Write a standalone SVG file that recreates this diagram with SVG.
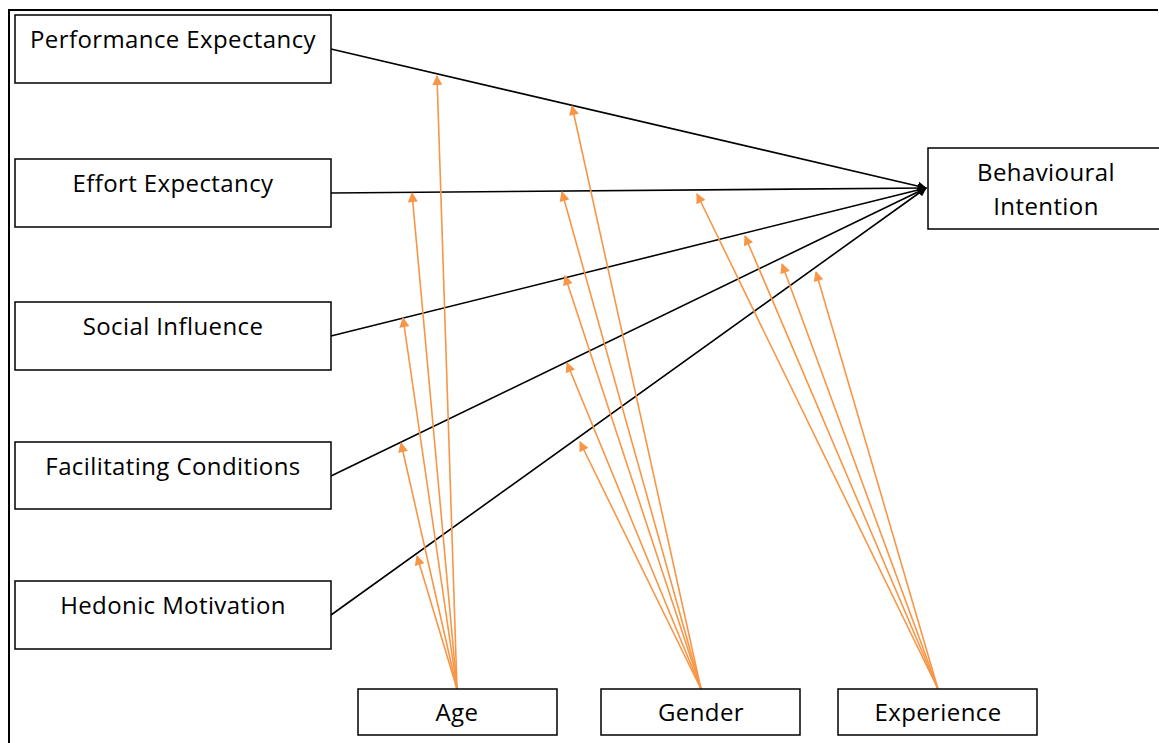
<svg xmlns="http://www.w3.org/2000/svg" width="1159" height="743" viewBox="0 0 1159 743">
<style>
.box{fill:#fff;stroke:#000;stroke-width:1.5}
.lbl{font-family:"Open Sans","Liberation Sans",sans-serif;font-size:24px;letter-spacing:0.4px;fill:#000;text-anchor:middle}
.main{stroke:#000;stroke-width:1.6;fill:none}
.mod{stroke:#F79646;stroke-width:1.6;fill:none;marker-end:url(#oa)}
</style>
<defs>
<marker id="oa" viewBox="0 0 10 10" refX="9" refY="5" markerWidth="11" markerHeight="10" markerUnits="userSpaceOnUse" orient="auto">
<path d="M0,0 L10,5 L0,10 z" fill="#F79646"/>
</marker>
<marker id="ba" viewBox="0 0 10 10" refX="9" refY="5" markerWidth="9" markerHeight="9" markerUnits="userSpaceOnUse" orient="auto">
<path d="M0,0 L10,5 L0,10 z" fill="#000"/>
</marker>
</defs>
<rect width="1159" height="743" fill="#fff"/>
<path d="M9,743 V10 H1158" fill="none" stroke="#000" stroke-width="2"/>

<g id="connectors">
<g marker-end="url(#ba)">
<line class="main" x1="331" y1="49" x2="926" y2="188"/>
<line class="main" x1="331" y1="193" x2="926" y2="188"/>
<line class="main" x1="331" y1="336" x2="926" y2="188"/>
<line class="main" x1="331" y1="476" x2="926" y2="188"/>
<line class="main" x1="331" y1="615" x2="926" y2="188"/>
</g>
<line class="mod" x1="457" y1="689" x2="437" y2="76"/>
<line class="mod" x1="457" y1="689" x2="412" y2="193"/>
<line class="mod" x1="457" y1="689" x2="403" y2="318"/>
<line class="mod" x1="457" y1="689" x2="401" y2="443"/>
<line class="mod" x1="457" y1="689" x2="417" y2="556"/>
<line class="mod" x1="701" y1="689" x2="572" y2="106"/>
<line class="mod" x1="701" y1="689" x2="562" y2="192"/>
<line class="mod" x1="701" y1="689" x2="565" y2="276"/>
<line class="mod" x1="701" y1="689" x2="567" y2="363"/>
<line class="mod" x1="701" y1="689" x2="580" y2="442"/>
<line class="mod" x1="938" y1="689" x2="697" y2="194"/>
<line class="mod" x1="938" y1="689" x2="745" y2="236"/>
<line class="mod" x1="938" y1="689" x2="782" y2="264"/>
<line class="mod" x1="938" y1="689" x2="816" y2="272"/>
</g>

<g id="pe"><rect class="box" x="15" y="15" width="316" height="68"/><text class="lbl" x="173" y="48">Performance Expectancy</text></g>
<g id="ee"><rect class="box" x="15" y="159" width="316" height="68"/><text class="lbl" x="173" y="192">Effort Expectancy</text></g>
<g id="si"><rect class="box" x="15" y="302" width="316" height="68"/><text class="lbl" x="173" y="335">Social Influence</text></g>
<g id="fc"><rect class="box" x="15" y="442" width="316" height="67"/><text class="lbl" x="173" y="475">Facilitating Conditions</text></g>
<g id="hm"><rect class="box" x="15" y="581" width="316" height="68"/><text class="lbl" x="173" y="614">Hedonic Motivation</text></g>
<g id="bi"><rect class="box" x="928" y="148" width="240" height="81"/><text class="lbl" x="1046" y="181">Behavioural</text><text class="lbl" x="1046" y="215">Intention</text></g>
<g id="age"><rect class="box" x="358" y="689" width="199" height="46"/><text class="lbl" x="457" y="721">Age</text></g>
<g id="gender"><rect class="box" x="601" y="689" width="199" height="46"/><text class="lbl" x="701" y="721">Gender</text></g>
<g id="experience"><rect class="box" x="838" y="689" width="199" height="46"/><text class="lbl" x="938" y="721">Experience</text></g>
</svg>
